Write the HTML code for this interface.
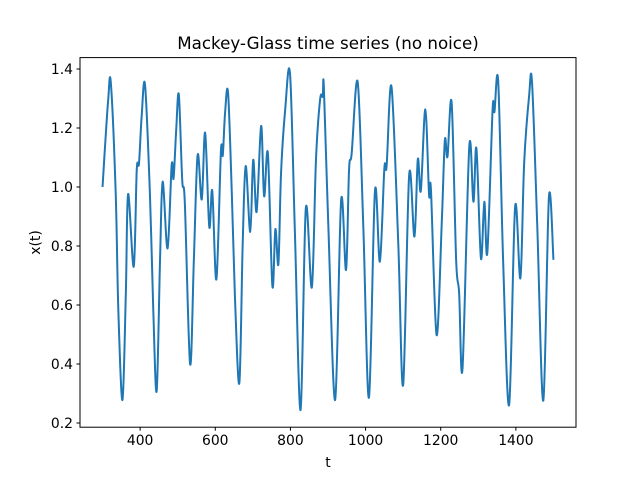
<!DOCTYPE html>
<html><head><meta charset="utf-8">
<style>
body{margin:0;background:#fff;}
svg{display:block;font-family:"DejaVu Sans","Liberation Sans",sans-serif;}
</style></head>
<body>
<svg id="chart" width="640" height="480" viewBox="0 0 640 480">
<rect x="0" y="0" width="640" height="480" fill="#fff"/>
<text x="328" y="49" text-anchor="middle" font-size="16.7" fill="#000">Mackey-Glass time series (no noice)</text>
<text x="328" y="467" text-anchor="middle" font-size="13.9" fill="#000">t</text>
<text x="40" y="242.5" text-anchor="middle" font-size="13.9" fill="#000" transform="rotate(-90 40 242.5)">x(t)</text>
<g id="ticks"></g>
<path id="series" fill="none" stroke="#1f77b4" stroke-width="2" stroke-linejoin="round"/>
<rect x="80" y="57.6" width="496" height="369.6" fill="none" stroke="#000" stroke-width="1"/>
</svg>
<script>
const tValues=[300,306,315,322,335,342,353,362,368,383,391,397,404,413,426,435,444,453,460,473,484,489,496,503,512,519,533,543,553,564,573,584,592,603,615,620,626,634,644,652,664,673,681,693,701,710,722,730,740,752,760,768,775,786,799,812,827,841,857,868,879,886,889,901,919,935,948,956,963,979,994,1009,1025,1038,1050,1056,1069,1087,1100,1116,1130,1139,1147,1159,1169,1174,1189,1203,1211,1218,1229,1241,1249,1258,1276,1287,1295,1307,1316,1324,1338,1343,1353,1366,1382,1398,1412,1422,1435,1443,1457,1473,1488,1500];
const xValues=[1.00,1.125,1.295,1.354,0.979,0.583,0.278,0.641,0.976,0.73,1.058,1.08,1.238,1.347,0.979,0.583,0.308,0.753,1.018,0.792,1.075,1.029,1.193,1.313,1.024,0.945,0.40,0.753,1.108,0.958,1.184,0.865,0.987,0.687,1.12,1.108,1.25,1.32,0.979,0.64,0.335,0.809,1.071,0.848,1.092,0.916,1.207,0.969,1.114,0.664,0.857,0.739,1.046,1.261,1.383,0.843,0.244,0.928,0.66,1.092,1.297,1.306,1.338,0.865,0.278,0.956,0.719,1.058,1.114,1.356,0.865,0.286,0.987,0.747,1.063,1.071,1.34,0.809,0.329,1.041,0.832,1.094,0.987,1.263,0.973,0.99,0.498,0.888,1.159,1.103,1.286,0.753,0.64,0.385,1.137,0.95,1.131,0.758,0.95,0.777,1.261,1.255,1.357,0.753,0.261,0.933,0.691,1.08,1.306,1.354,0.865,0.276,0.967,0.753];
const xTicks=[400,600,800,1000,1200,1400];
const yTicks=[0.2,0.4,0.6,0.8,1.0,1.2,1.4];
const X0=80,X1=576,Y0=57.6,Y1=427.2;
const tMin=240,tMax=1560;
function sx(t){return X0+(t-tMin)/(tMax-tMin)*(X1-X0);}
function sy(v){return 423-(v-0.2)/1.2*354;}
const NS='http://www.w3.org/2000/svg';
const g=document.getElementById('ticks');
xTicks.forEach(t=>{
  const l=document.createElementNS(NS,'line');
  l.setAttribute('x1',sx(t));l.setAttribute('x2',sx(t));l.setAttribute('y1',Y1);l.setAttribute('y2',Y1+3.5);l.setAttribute('stroke','#000');
  
  
  g.appendChild(l);
  const tx=document.createElementNS(NS,'text');
  tx.setAttribute('x',sx(t));tx.setAttribute('y',Y1+18);tx.setAttribute('text-anchor','middle');tx.setAttribute('font-size','13.9');
  tx.textContent=t;
  
  
  g.appendChild(tx);
});
yTicks.forEach(v=>{
  const l=document.createElementNS(NS,'line');
  l.setAttribute('x1',X0-3.5);l.setAttribute('x2',X0);l.setAttribute('y1',sy(v));l.setAttribute('y2',sy(v));l.setAttribute('stroke','#000');
  
  
  g.appendChild(l);
  const tx=document.createElementNS(NS,'text');
  tx.setAttribute('x',X0-7);tx.setAttribute('y',sy(v)+5);tx.setAttribute('text-anchor','end');tx.setAttribute('font-size','13.9');
  tx.textContent=v.toFixed(1);
  
  
  g.appendChild(tx);
});
const P=tValues.map((t,i)=>[sx(t),sy(xValues[i])]);
let d='M'+P[0][0]+','+P[0][1];
for(let i=0;i<P.length-1;i++){
  const p0=P[Math.max(0,i-1)],p1=P[i],p2=P[i+1],p3=P[Math.min(P.length-1,i+2)];
  const c1x=p1[0]+(p2[0]-p0[0])/6,c1y=p1[1]+(p2[1]-p0[1])/6;
  const c2x=p2[0]-(p3[0]-p1[0])/6,c2y=p2[1]-(p3[1]-p1[1])/6;
  d+=' C'+c1x+','+c1y+' '+c2x+','+c2y+' '+p2[0]+','+p2[1];
}
document.getElementById('series').setAttribute('d',d);
</script>
</body></html>
